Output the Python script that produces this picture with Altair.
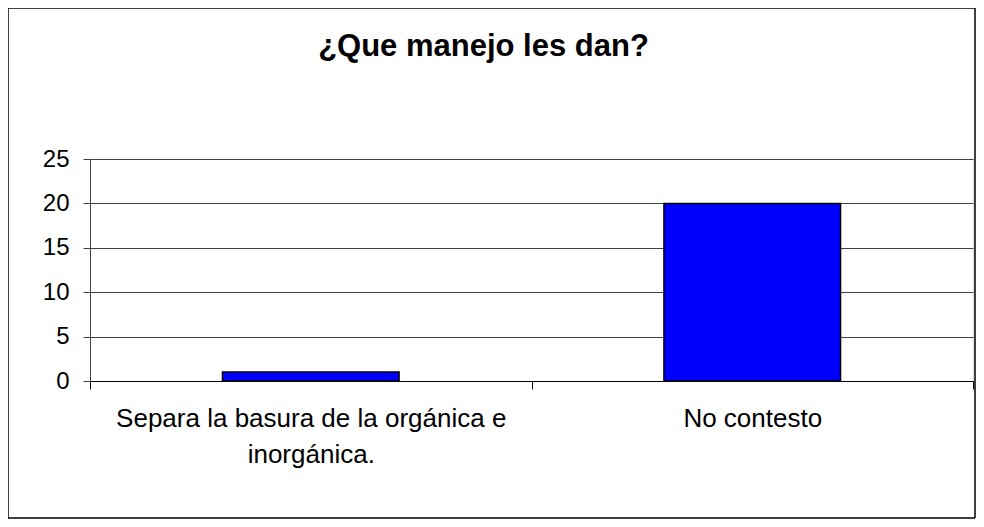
import altair as alt
import pandas as pd

categories = ["Separa la basura de la orgánica e\ninorgánica.", "No contesto"]
values = [1, 20]
y_ticks = [0, 5, 10, 15, 20, 25]
title_text = "¿Que manejo les dan?"

df = pd.DataFrame({"cat": categories, "val": values})

W, H = 883, 222
PL, PT, PR, PB = 82, 151, 3, 138
FONT = "Liberation Sans, Arial, sans-serif"

bars = alt.Chart(df).mark_bar(
    color="#0000FF", stroke="#000000", strokeWidth=1.5,
    width=alt.RelativeBandSize(0.4),
).encode(
    x=alt.X(
        "cat:N",
        sort=categories,
        scale=alt.Scale(paddingInner=0, paddingOuter=0),
        axis=alt.Axis(
            title=None,
            labelAngle=0,
            labelExpr="split(datum.label, '\\n')",
            labelFont=FONT,
            labelFontSize=26,
            labelColor="#000000",
            labelPadding=16,
            labelLineHeight=36,
            labelLimit=600,
            tickBand="extent",
            ticks=True,
            tickSize=8,
            tickColor="#000000",
            domainColor="#000000",
            grid=False,
        ),
    ),
    y=alt.Y(
        "val:Q",
        scale=alt.Scale(domain=[0, 25], nice=False),
        axis=alt.Axis(
            title=None,
            values=y_ticks,
            labelFont=FONT,
            labelFontSize=24,
            labelColor="#000000",
            labelPadding=14,
            tickSize=7,
            tickColor="#404040",
            domainColor="#404040",
            grid=True,
            gridColor="#404040",
            gridOpacity=1,
        ),
    ),
)

frame = alt.Chart(df).mark_rect(
    fill=None, stroke="#000000", strokeWidth=1, clip=False
).encode(
    x=alt.value(-PL), x2=alt.value(W + PR - 1),
    y=alt.value(-PT), y2=alt.value(H + PB - 1),
)

chart = alt.layer(frame, bars).properties(
    width=W,
    height=H,
    autosize=alt.AutoSizeParams(type="none"),
    padding={"left": PL, "top": PT, "right": PR, "bottom": PB},
    title=alt.TitleParams(
        text=title_text,
        font=FONT,
        fontSize=31,
        fontWeight="bold",
        color="#000000",
        anchor="middle",
        baseline="alphabetic",
        dx=-48,
        offset=-79,
    ),
).configure_view(stroke="#888888", strokeWidth=1.5).configure(background="#ffffff")

chart.save("out.html", embed_options={"renderer": "svg", "actions": False})
